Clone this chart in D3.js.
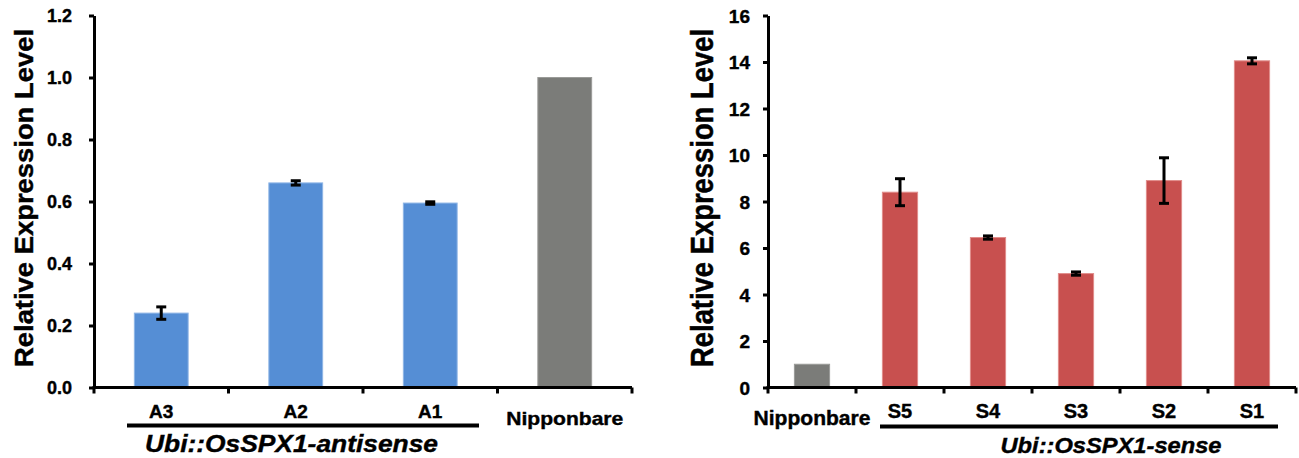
<!DOCTYPE html>
<html>
<head>
<meta charset="utf-8">
<script src="https://cdn.jsdelivr.net/npm/d3@7"></script>
<style>
  body { margin: 0; background: #fff; }
  text { font-family: "Liberation Sans", Arial, sans-serif; font-weight: bold; fill: #000; stroke: #000; stroke-width: 0.4px; }
</style>
</head>
<body>
<svg id="chart" width="1299" height="458"></svg>
<script>
// left panel: antisense lines
const leftCats = ["A3", "A2", "A1", "Nipponbare"];
const leftVals = [0.24, 0.66, 0.595, 1.0];
const leftErr  = [0.02, 0.007, 0.004, 0];
const leftTicks = [0, 0.2, 0.4, 0.6, 0.8, 1.0, 1.2];

// right panel: sense lines
const rightCats = ["Nipponbare", "S5", "S4", "S3", "S2", "S1"];
const rightVals = [1.0, 8.4, 6.45, 4.9, 8.9, 14.05];
const rightErr  = [0, 0.58, 0.07, 0.07, 0.98, 0.13];
const rightTicks = [0, 2, 4, 6, 8, 10, 12, 14, 16];

const svg = d3.select("#chart");

function drawPanel(opt) {
  const g = svg.append("g");

  const x = d3.scaleBand().domain(opt.cats).range([opt.x0, opt.x1]).padding(0);
  const y = d3.scaleLinear().domain([0, opt.ymax]).range([387.5, 15.5]);
  const bw = x.bandwidth() * 0.4;

  // bars
  g.selectAll(".bar")
    .data(opt.cats)
    .enter().append("rect")
    .attr("x", d => x(d) + (x.bandwidth() - bw) / 2)
    .attr("y", (d, i) => y(opt.vals[i]))
    .attr("width", bw)
    .attr("height", (d, i) => y(0) - y(opt.vals[i]))
    .attr("fill", d => d === "Nipponbare" ? "#7b7c79" : opt.color)
    .attr("stroke", d => d === "Nipponbare" ? "#9a9b98" : opt.edge)
    .attr("stroke-width", 1);

  // error bars
  const eb = g.selectAll(".err")
    .data(opt.cats.filter((d, i) => opt.errs[i] > 0))
    .enter().append("g")
    .attr("stroke", "#000")
    .attr("stroke-width", 3);
  const idx = d => opt.cats.indexOf(d);
  const cx = d => x(d) + x.bandwidth() / 2;
  eb.append("line")
    .attr("x1", cx).attr("x2", cx)
    .attr("y1", d => y(opt.vals[idx(d)] + opt.errs[idx(d)]))
    .attr("y2", d => y(opt.vals[idx(d)] - opt.errs[idx(d)]));
  [1, -1].forEach(s => {
    eb.append("line")
      .attr("x1", d => cx(d) - 5).attr("x2", d => cx(d) + 5)
      .attr("y1", d => y(opt.vals[idx(d)] + s * opt.errs[idx(d)]))
      .attr("y2", d => y(opt.vals[idx(d)] + s * opt.errs[idx(d)]));
  });

  // y axis
  const yAxis = g.append("g")
    .attr("transform", "translate(" + opt.x0 + ",0)")
    .call(d3.axisLeft(y).tickValues(opt.ticks).tickSize(5).tickSizeOuter(0)
      .tickPadding(opt.pad).tickFormat(opt.fmt));
  yAxis.selectAll("path, line").attr("stroke", "#000").attr("stroke-width", 3);
  yAxis.selectAll("text")
    .attr("dy", "0.36em")
    .attr("fill", "#000")
    .style("font-size", opt.tickFont + "px")
    .style("font-family", "'Liberation Sans', Arial, sans-serif")
    .style("font-weight", "bold");

  // x axis line with ticks at band edges
  g.append("line")
    .attr("x1", opt.x0 - 1.5).attr("x2", opt.x1)
    .attr("y1", y(0)).attr("y2", y(0))
    .attr("stroke", "#000").attr("stroke-width", 3);
  const edges = opt.cats.map(d => x(d)).concat([opt.x1]);
  g.selectAll(".xt")
    .data(edges)
    .enter().append("line")
    .attr("x1", d => d).attr("x2", d => d)
    .attr("y1", y(0)).attr("y2", y(0) + 6)
    .attr("stroke", "#000").attr("stroke-width", 3);

  // category labels
  g.selectAll(".cat")
    .data(opt.cats)
    .enter().append("text")
    .attr("x", d => x(d) + x.bandwidth() / 2)
    .attr("y", d => d === "Nipponbare" ? 424.5 : 417.5)
    .attr("text-anchor", "middle")
    .attr("textLength", d => d === "Nipponbare" ? 117 : null)
    .attr("lengthAdjust", "spacingAndGlyphs")
    .style("font-size", opt.catFont + "px")
    .text(d => d);

  // group underline + italic label
  g.append("line")
    .attr("x1", opt.ul[0]).attr("x2", opt.ul[1])
    .attr("y1", opt.ulY).attr("y2", opt.ulY)
    .attr("stroke", "#000").attr("stroke-width", 4);
  g.append("text")
    .attr("x", opt.grp.x)
    .attr("y", opt.grp.y)
    .attr("text-anchor", "middle")
    .attr("textLength", opt.grp.len)
    .attr("lengthAdjust", "spacingAndGlyphs")
    .style("font-size", opt.grp.size + "px")
    .style("font-style", "italic")
    .text(opt.grp.label);

  // y title
  g.append("text")
    .attr("transform", "translate(" + opt.ylab.x + ",198) scale(" + opt.ylab.sx + ",1) rotate(-90)")
    .attr("text-anchor", "middle")
    .attr("textLength", 338)
    .attr("lengthAdjust", "spacingAndGlyphs")
    .style("font-size", "25px")
    .text("Relative Expression Level");
}

drawPanel({
  cats: leftCats, vals: leftVals, errs: leftErr, ticks: leftTicks,
  x0: 94, x1: 632, ymax: 1.2, fmt: d3.format(".1f"), pad: 17, tickFont: 18, catFont: 19,
  color: "#558ed5", edge: "#8fb6e6",
  ul: [127, 479], ulY: 425.5,
  grp: { x: 291.5, y: 452, len: 293, size: 24, label: "Ubi::OsSPX1-antisense" },
  ylab: { x: 33, sx: 1.05 }
});

drawPanel({
  cats: rightCats, vals: rightVals, errs: rightErr, ticks: rightTicks,
  x0: 768, x1: 1296, ymax: 16, fmt: d3.format("d"), pad: 13, tickFont: 19, catFont: 20,
  color: "#c8504f", edge: "#e08c8a",
  ul: [880, 1278], ulY: 426.5,
  grp: { x: 1111, y: 453, len: 221, size: 22, label: "Ubi::OsSPX1-sense" },
  ylab: { x: 713, sx: 1.25 }
});
</script>
</body>
</html>
